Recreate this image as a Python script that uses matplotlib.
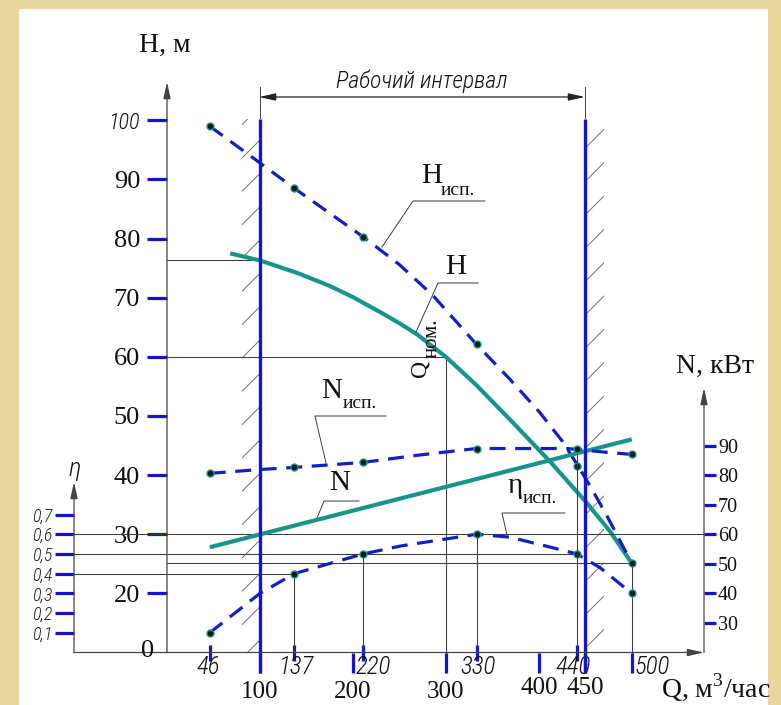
import matplotlib
matplotlib.use('Agg')
import matplotlib.pyplot as plt
from matplotlib import font_manager
from matplotlib.patches import Rectangle, FancyArrowPatch
from matplotlib.lines import Line2D

# ---------------- данные ----------------
# испытательные точки (Q, м3/час)
q_test = [46, 137, 211, 333, 441, 500]
q_test_labels = ['46', '137', '220', '330', '440', '500']
h_test = [99.0, 88.5, 80.3, 62.1, 41.6, 25.1]       # H исп., м
n_test = [80.6, 82.6, 84.3, 89.0, 88.7, 87.0]       # N исп., кВт
eta_test = [0.10, 0.40, 0.50, 0.60, 0.50, 0.30]     # η исп.

# пунктирные кривые испытаний (точки вдоль линии)
q_h_isp = [46, 100, 137, 175, 211, 250, 286, 333, 369, 401, 426, 442, 455, 473, 500]
h_isp = [99.0, 92.8, 88.5, 84.3, 80.3, 75.6, 70.4, 62.1, 56.2, 50.6, 45.6, 41.6, 38.2, 33.2, 25.1]
q_n_isp = [46, 100, 137, 211, 269, 333, 376, 430, 441, 473, 500]
n_isp = [80.6, 81.9, 82.6, 84.3, 86.7, 89.0, 89.0, 89.0, 88.7, 87.7, 87.0]
q_eta_isp = [46, 73, 100, 137, 211, 251, 333, 369, 412, 441, 466, 500]
eta_isp = [0.10, 0.20, 0.30, 0.40, 0.50, 0.54, 0.60, 0.585, 0.535, 0.50, 0.43, 0.30]

# номинальные кривые (сплошные)
q_h_nom = [68, 100, 140, 175, 200, 229, 251, 269, 300, 333, 372, 412, 450, 477, 500]
h_nom = [77.5, 76.3, 74.2, 72.0, 70.1, 67.6, 65.6, 63.8, 60.0, 55.2, 48.9, 42.3, 35.6, 30.4, 25.1]
q_n_nom = [46, 500]
n_nom = [55.6, 92.1]

# рабочий интервал и вспомогательные линии
q_work = [100, 450]
h_work_top = 100.2
q_nom, h_q_nom = 300, 60
h_q100 = 76.3

h_ticks = [20, 30, 40, 50, 60, 70, 80, 90, 100]
eta_ticks = [0.1, 0.2, 0.3, 0.4, 0.5, 0.6, 0.7]
n_ticks = [30, 40, 50, 60, 70, 80, 90]
q_ticks = [100, 200, 300, 400, 450]

# ---------------- оформление ----------------
W, HP = 781, 705
GOLD = '#E9D59E'
BLUE = '#1414CF'
DBLUE = '#1020C4'
TEAL = '#18958A'
GREY = '#3c3c3c'

names = {f.name for f in font_manager.fontManager.ttflist}
CAD, k = 'Liberation Sans', 0.86
for cand, kk in [('Liberation Sans Narrow', 1.0), ('DejaVu Sans Condensed', 0.92),
                 ('Roboto Condensed', 1.0)]:
    if cand in names:
        CAD, k = cand, kk
        break
cad = dict(family=CAD, style='italic', weight='light')

plt.rcParams['font.family'] = ['Liberation Serif', 'DejaVu Serif']
plt.rcParams['mathtext.fontset'] = 'custom'
plt.rcParams['mathtext.rm'] = 'Liberation Serif'
plt.rcParams['hatch.linewidth'] = 0.7


def fx(x):
    return x / W


def fy(y):
    return 1 - y / HP


fig = plt.figure(figsize=(W / 100, HP / 100), dpi=100, facecolor=GOLD)
panel = Rectangle((fx(19), 0), (768 - 19) / W, (HP - 9) / HP, transform=fig.transFigure,
                  facecolor='white', edgecolor='none', zorder=-10)
fig.patches.append(panel)

# масштабы: Q=0 -> x=167 px, H=10 -> y=652.5 px
PX_Q, PX_H = 0.9295, 5.913
ax = fig.add_axes([fx(167), fy(652.5), (704 - 167) / W, (652.5 - 80) / HP])
q_max = (704 - 167) / PX_Q
h_max = 10 + (652.5 - 80) / PX_H
ax.set_xlim(0, q_max)
ax.set_ylim(10, h_max)
ax.patch.set_visible(False)

ax_eta = ax.twinx()
ax_eta.set_ylim(0, 0.03 * (h_max - 10))
ax_n = ax.twinx()
ax_n.set_ylim(20, 2 * h_max)
for a in (ax, ax_eta, ax_n):
    for s in a.spines.values():
        s.set_visible(False)

# ---- шкала H ----
ax.set_yticks(h_ticks, labels=[str(v) for v in h_ticks], fontsize=19)
ax.tick_params(axis='y', direction='out', length=14.4, width=2.3, color=BLUE, pad=5,
               labelcolor='#111')
lab = ax.get_yticklabels()[-1]
lab.set_fontfamily(CAD)
lab.set_fontstyle('italic')
lab.set_fontweight('light')
lab.set_fontsize(16 * k)

# ---- шкала Q ----
ax.set_xticks(q_ticks + [q_test[-1]])
ax.set_xticks(q_test[:-1], minor=True)
ax.tick_params(axis='x', which='major', direction='out', length=14.4, width=2.3, color=BLUE,
               labelbottom=False)
ax.tick_params(axis='x', which='minor', direction='inout', length=11, width=2.3, color=BLUE,
               labelbottom=False)
xt = ax.get_xaxis_transform()
for q in q_ticks:
    yb = -(698 - 652.5) / 572.5 if q <= 300 else -(694 - 652.5) / 572.5
    ax.text(q, yb, str(q), transform=xt, ha='center', va='baseline', fontsize=18,
            color='#111', clip_on=False)
dx_px = [-1, 2, 10, 1.5, -4, 20]
for q, s, d in zip(q_test, q_test_labels, dx_px):
    ax.annotate(s, xy=(q, 0), xycoords=xt, xytext=(d * 0.72, -22 * 0.72),
                textcoords='offset points', ha='center', va='baseline', fontsize=18 * k,
                color='#111', **cad)

# ---- шкала η ----
ax_eta.yaxis.tick_left()
ax_eta.spines['left'].set_position(('axes', (74 - 167) / (704 - 167)))
ax_eta.set_yticks(eta_ticks, labels=[f'{v:.1f}'.replace('.', ',') for v in eta_ticks],
                  fontsize=13 * k, **cad)
ax_eta.tick_params(axis='y', direction='out', length=13.7, width=2.3, color=BLUE, pad=1.5,
                   labelcolor='#222')

# ---- шкала N ----
ax_n.set_yticks(n_ticks, labels=[str(v) for v in n_ticks], fontsize=14.5)
ax_n.tick_params(axis='y', direction='out', length=8.6, width=2.3, color=BLUE, pad=1.5,
                 labelcolor='#111')

# ---- штриховка границ рабочего интервала ----
ax.add_patch(Rectangle((80.7, 10), q_work[0] - 80.7, h_work_top - 10, fill=False,
                       hatch='/', edgecolor='#707070', lw=0))
ax.add_patch(Rectangle((q_work[1], 10), 20.4, h_work_top - 10, fill=False,
                       hatch='/', edgecolor='#707070', lw=0))

# ---- тонкие вспомогательные линии ----
thin = dict(color=GREY, lw=0.75, clip_on=False)
eta_left = -(167 - 74) / PX_Q
ax.plot([0, q_work[0]], [h_q100, h_q100], **thin)
ax.plot([0, q_nom, q_nom], [h_q_nom, h_q_nom, 10], **thin)
ax.plot([0, q_test[-1], q_test[-1]], [h_test[-1], h_test[-1], 10], **thin)
ax_eta.plot([eta_left, q_max], [0.6, 0.6], **thin)
ax_eta.plot([eta_left, q_test[4]], [0.5, 0.5], **thin)
ax_eta.plot([eta_left, q_test[1]], [0.4, 0.4], **thin)
for i in (1, 2, 3):
    ax_eta.plot([q_test[i], q_test[i]], [0, eta_test[i]], **thin)
ax_n.plot([q_test[4], q_test[4]], [20, n_test[4]], **thin)

# ---- кривые ----
dash = (0, (5, 3))
dot = dict(ls='none', marker='o', ms=5, mfc='#101818', mec=TEAL, mew=1, zorder=5)
ax.plot(q_h_nom, h_nom, color=TEAL, lw=3, solid_capstyle='butt', solid_joinstyle='round')
ax.plot(q_h_isp, h_isp, color=DBLUE, lw=2.3, ls=dash)
ax.plot(q_test, h_test, **dot)
ax_n.plot(q_n_nom, n_nom, color=TEAL, lw=3, solid_capstyle='butt')
ax_n.plot(q_n_isp, n_isp, color=DBLUE, lw=2.3, ls=dash)
ax_n.plot(q_test, n_test, **dot)
ax_eta.plot(q_eta_isp, eta_isp, color=DBLUE, lw=2.3, ls=dash)
ax_eta.plot(q_test, eta_test, **dot)

# границы рабочего интервала
h_low = 10 - (673 - 652.5) / PX_H
for q in q_work:
    ax_n.plot([q, q], [2 * h_low, 2 * h_work_top], color=BLUE, lw=2.4, clip_on=False,
              solid_capstyle='butt', zorder=4)


# ---- оси со стрелками ----
def arrow(p0, p1, style='-|>', color='#444'):
    fig.add_artist(FancyArrowPatch((fx(p0[0]), fy(p0[1])), (fx(p1[0]), fy(p1[1])),
                                   transform=fig.transFigure,
                                   arrowstyle=style + ',head_length=0.9,head_width=0.2',
                                   mutation_scale=11, lw=0.9, color=color,
                                   shrinkA=0, shrinkB=0))


arrow((74, 652.5), (704, 652.5))
arrow((167, 652.5), (167, 82))
arrow((74, 652.5), (74, 482))
arrow((704, 652.5), (704, 388))
arrow((259, 97), (585, 97), style='<|-|>', color='#222')
for x in (259.5, 585):
    fig.add_artist(Line2D([fx(x), fx(x)], [fy(87), fy(118)], transform=fig.transFigure,
                          color=GREY, lw=0.7))

# ---- выноски ----
leaders = [[(382, 247), (413, 201), (485, 201)],
           [(416, 332), (438, 283), (478, 283)],
           [(326, 463), (315, 416), (386, 416)],
           [(317, 518), (324, 501), (359, 501)],
           [(507, 535), (502, 513), (565, 513)]]
for pts in leaders:
    fig.add_artist(Line2D([fx(x) for x, y in pts], [fy(y) for x, y in pts],
                          transform=fig.transFigure, color=GREY, lw=0.7))


def ptext(x, y, s, size, ha='center', va='baseline', **kw):
    return fig.text(fx(x), fy(y), s, fontsize=size, ha=ha, va=va, color='#111', **kw)


ptext(165, 52, 'H, м', 20)
ptext(715, 373, 'N, кВт', 20)
ptext(75, 469, 'η', 19 * k, va='center', **cad)
ptext(422, 88, 'Рабочий интервал', 17 * k, **cad)
ptext(148, 651, '0', 19, va='center')

ptext(432, 183, 'H', 21)
ptext(458, 195, 'исп.', 14)
ptext(456, 274, 'H', 21)
ptext(332, 398, 'N', 21)
ptext(360, 408, 'исп.', 14)
ptext(340, 490, 'N', 21)
ptext(515, 493, 'η', 21)
ptext(540, 503, 'исп.', 14)
ptext(420, 368, 'Q', 17, va='center', rotation=90)
ptext(432, 338, 'ном.', 15, va='center', rotation=90)

ptext(661, 697, r'Q, м$^{\mathregular{3}}$/час', 20, ha='left')

fig.savefig('out.png', dpi=100, facecolor=GOLD)
